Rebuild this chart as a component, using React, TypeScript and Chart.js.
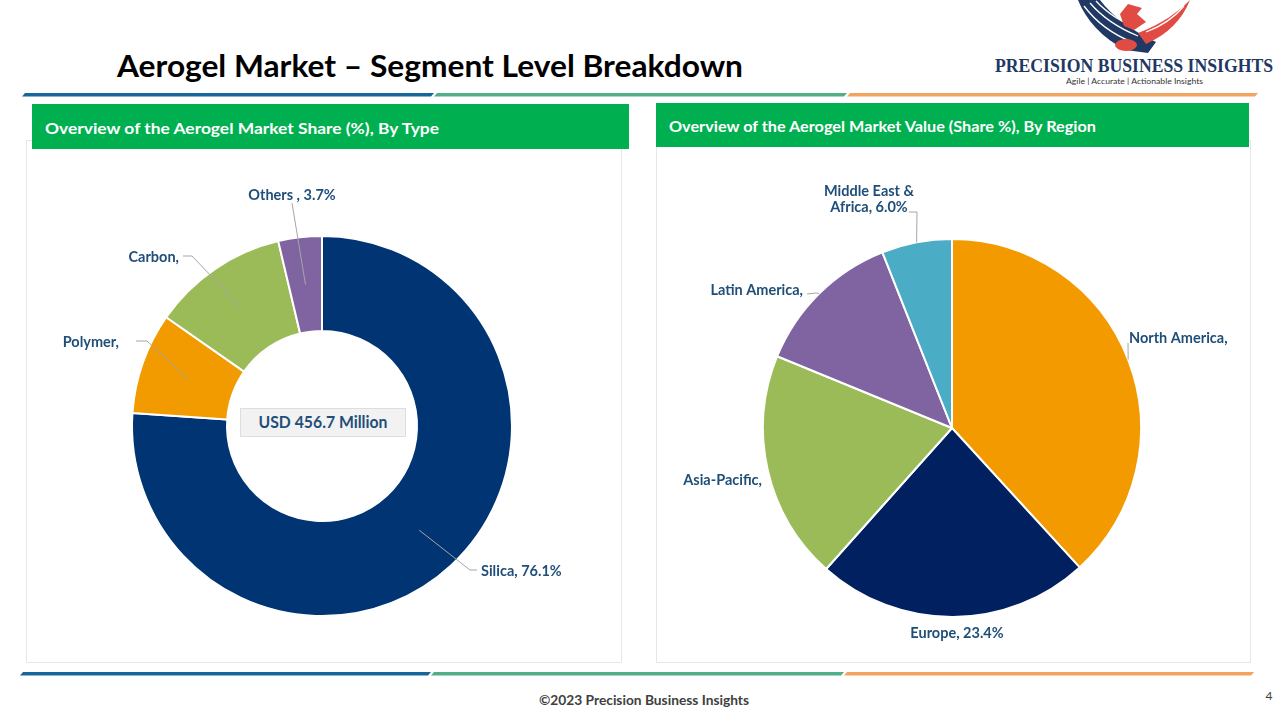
import React, { useEffect, useRef } from "react";
import { Chart, registerables } from "chart.js";

Chart.register(...registerables);

// ---------- data ----------
const typeLabels = ["Silica", "Polymer", "Carbon", "Others"];
const typeShares = [76.1, 8.6, 11.6, 3.7];
const typeCallouts = [["Silica, 76.1%"], ["Polymer,"], ["Carbon,"], ["Others , 3.7%"]];
const typeColors = ["#003473", "#F29B00", "#9BBB59", "#8064A2"];

const regionLabels = ["North America", "Europe", "Asia-Pacific", "Latin America", "Middle East & Africa"];
const regionShares = [38.2, 23.4, 19.6, 12.8, 6.0];
const regionCallouts = [["North America,"], ["Europe, 23.4%"], ["Asia-Pacific,"], ["Latin America,"], ["Middle East &", "Africa, 6.0%"]];
const regionColors = ["#F29A00", "#002060", "#9BBB59", "#8064A2", "#4BACC6"];

const marketSizeLabel = "USD 456.7 Million";

// ---------- layout (offsets from chart centre) ----------
type CalloutLayout = { x: number; y: number; align: CanvasTextAlign; path?: number[][] };

const typeLayout: CalloutLayout[] = [
  { x: 159, y: 145, align: "left", path: [[155, 144], [148, 144]] },
  { x: -203, y: -84, align: "right", path: [[-186, -85], [-175, -85]] },
  { x: -143, y: -169, align: "right", path: [[-139, -170], [-130, -170]] },
  { x: -30, y: -231, align: "center", path: [[-30, -223]] },
];

const regionLayout: CalloutLayout[] = [
  { x: 177, y: -90, align: "left", path: [[176, -85]] },
  { x: 5, y: 205, align: "center" },
  { x: -190, y: 52, align: "right" },
  { x: -149, y: -138, align: "right", path: [[-145, -134], [-136, -135]] },
  { x: -83, y: -237, align: "center", path: [[-43, -216], [-35, -216]] },
];

const LABEL_FONT = "bold 14.5px Lato";
const LABEL_COLOR = "#1F4E79";

function makeCallouts(id: string, texts: string[][], layout: CalloutLayout[], anchorAtEdge: boolean) {
  return {
    id,
    afterDatasetsDraw(chart: any) {
      const ctx: CanvasRenderingContext2D = chart.ctx;
      const arcs = chart.getDatasetMeta(0).data as any[];
      ctx.save();
      arcs.forEach((arc, i) => {
        const L = layout[i];
        const p = arc.getProps(["x", "y", "startAngle", "endAngle", "innerRadius", "outerRadius"], true);
        const mid = (p.startAngle + p.endAngle) / 2;
        const r = anchorAtEdge ? p.outerRadius : (p.innerRadius + p.outerRadius) / 2;
        const ax = p.x + Math.cos(mid) * r;
        const ay = p.y + Math.sin(mid) * r;
        if (L.path) {
          ctx.beginPath();
          ctx.moveTo(p.x + L.path[0][0], p.y + L.path[0][1]);
          for (let k = 1; k < L.path.length; k++) ctx.lineTo(p.x + L.path[k][0], p.y + L.path[k][1]);
          ctx.lineTo(ax, ay);
          ctx.strokeStyle = "#a6a6a6";
          ctx.lineWidth = 1;
          ctx.stroke();
        }
        ctx.font = LABEL_FONT;
        ctx.fillStyle = LABEL_COLOR;
        ctx.textAlign = L.align;
        ctx.textBaseline = "middle";
        texts[i].forEach((t, j) => ctx.fillText(t, p.x + L.x, p.y + L.y + j * 16));
      });
      ctx.restore();
    },
  };
}

function Band({ y, segs }: { y: number; segs: [number, number, string][] }) {
  return (
    <g>
      {segs.map(([x0, x1, c], i) => (
        <polygon key={i} points={`${x0 + 3},${y} ${x1 + 3},${y} ${x1},${y + 3.5} ${x0},${y + 3.5}`} fill={c} />
      ))}
    </g>
  );
}

export default function App() {
  const leftRef = useRef<HTMLCanvasElement>(null);
  const rightRef = useRef<HTMLCanvasElement>(null);

  useEffect(() => {
    document.body.style.margin = "0";
    const c1 = new Chart(leftRef.current!, {
      type: "doughnut",
      data: {
        labels: typeLabels,
        datasets: [{ data: typeShares, backgroundColor: typeColors, borderColor: "#ffffff", borderWidth: 2 }],
      },
      options: {
        responsive: false,
        animation: false,
        devicePixelRatio: 1,
        cutout: "50%",
        layout: { padding: { left: 105, top: 85, right: 108, bottom: 45 } },
        plugins: { legend: { display: false }, tooltip: { enabled: false } },
      },
      plugins: [makeCallouts("typeCallouts", typeCallouts, typeLayout, false)],
    });
    const c2 = new Chart(rightRef.current!, {
      type: "pie",
      data: {
        labels: regionLabels,
        datasets: [{ data: regionShares, backgroundColor: regionColors, borderColor: "#ffffff", borderWidth: 2 }],
      },
      options: {
        responsive: false,
        animation: false,
        devicePixelRatio: 1,
        layout: { padding: { left: 106, top: 91, right: 108, bottom: 44 } },
        plugins: { legend: { display: false }, tooltip: { enabled: false } },
      },
      plugins: [makeCallouts("regionCallouts", regionCallouts, regionLayout, true)],
    });
    return () => {
      c1.destroy();
      c2.destroy();
    };
  }, []);

  const blue = "#17669B";
  const green = "#52AE86";
  const orange = "#F2A35E";

  return (
    <div style={{ position: "fixed", left: 0, top: 0, width: 1280, height: 720, background: "#fff", overflow: "hidden" }}>
      <svg width={1280} height={720} style={{ position: "absolute", left: 0, top: 0 }}>
        {/* logo */}
        <path d="M1078,0 C1086,20 1102,38 1126,50 L1148,53 L1156,42 C1134,32 1112,16 1100,0 Z" fill="#1F3864" />
        <path d="M1084,6 C1096,22 1112,34 1132,42" stroke="#fff" strokeWidth={1.3} fill="none" />
        <path d="M1090,3 C1102,17 1116,27 1138,36" stroke="#fff" strokeWidth={1.3} fill="none" />
        <path d="M1096,1 C1106,12 1120,22 1142,30" stroke="#fff" strokeWidth={1.3} fill="none" />
        <path d="M1190,0 C1182,20 1168,34 1146,44 L1138,33 C1162,24 1178,12 1190,0 Z" fill="#E04B43" />
        <path d="M1184,6 C1174,18 1162,26 1146,32" stroke="#fff" strokeWidth={1.2} fill="none" />
        <path d="M1120,14 L1128,4 L1142,8 L1137,14 L1146,22 L1134,30 L1124,26 Z" fill="#E04B43" />
        <ellipse cx={1126} cy={45} rx={11} ry={6} fill="#E04B43" />
        <text x={995} y={72} fontFamily="'Liberation Serif', serif" fontWeight={700} fontSize={18} fill="#1F3864" textLength={278} lengthAdjust="spacingAndGlyphs">PRECISION BUSINESS INSIGHTS</text>
        <text x={1066} y={84} fontFamily="Lato, sans-serif" fontSize={8} fill="#333" textLength={137} lengthAdjust="spacingAndGlyphs">Agile | Accurate | Actionable Insights</text>

        {/* title */}
        <text x={117} y={77} fontFamily="Lato, sans-serif" fontWeight={700} fontSize={30} fill="#000" textLength={626} lengthAdjust="spacingAndGlyphs">Aerogel Market – Segment Level Breakdown</text>

        <Band y={93} segs={[[22, 431, blue], [434, 844, green], [847, 1255, orange]]} />
        <Band y={672} segs={[[20, 428, blue], [431, 841, green], [844, 1251, orange]]} />

        {/* panels */}
        <rect x={26.5} y={140.5} width={595} height={522} fill="none" stroke="#e6e6e6" />
        <rect x={656.5} y={140.5} width={594} height={522} fill="none" stroke="#e6e6e6" />
        <rect x={32} y={104} width={597} height={45} fill="#00B050" />
        <rect x={656} y={103} width={593} height={44} fill="#00B050" />
        <text x={45} y={134} fontFamily="Lato, sans-serif" fontWeight={700} fontSize={16} fill="#fff" textLength={394} lengthAdjust="spacingAndGlyphs">Overview of the Aerogel Market Share (%), By Type</text>
        <text x={669} y={132} fontFamily="Lato, sans-serif" fontWeight={700} fontSize={16} fill="#fff" textLength={427} lengthAdjust="spacingAndGlyphs">Overview of the Aerogel Market Value (Share %), By Region</text>

        {/* centre box */}
        <rect x={240.5} y={408.5} width={165} height={28} fill="#f2f2f2" stroke="#dedede" />
        <text x={323} y={428} textAnchor="middle" fontFamily="Lato, sans-serif" fontWeight={700} fontSize={17} fill="#1F4E79" textLength={129} lengthAdjust="spacingAndGlyphs">{marketSizeLabel}</text>

        {/* footer */}
        <text x={539} y={705} fontFamily="Lato, sans-serif" fontWeight={700} fontSize={13} fill="#404040" textLength={210} lengthAdjust="spacingAndGlyphs">©2023 Precision Business Insights</text>
        <text x={1269} y={700} textAnchor="middle" fontFamily="Lato, sans-serif" fontSize={12} fill="#404040">4</text>
      </svg>
      <canvas ref={leftRef} width={595} height={512} style={{ position: "absolute", left: 26, top: 150, width: 595, height: 512 }} />
      <canvas ref={rightRef} width={594} height={515} style={{ position: "absolute", left: 656, top: 147, width: 594, height: 515 }} />
    </div>
  );
}
